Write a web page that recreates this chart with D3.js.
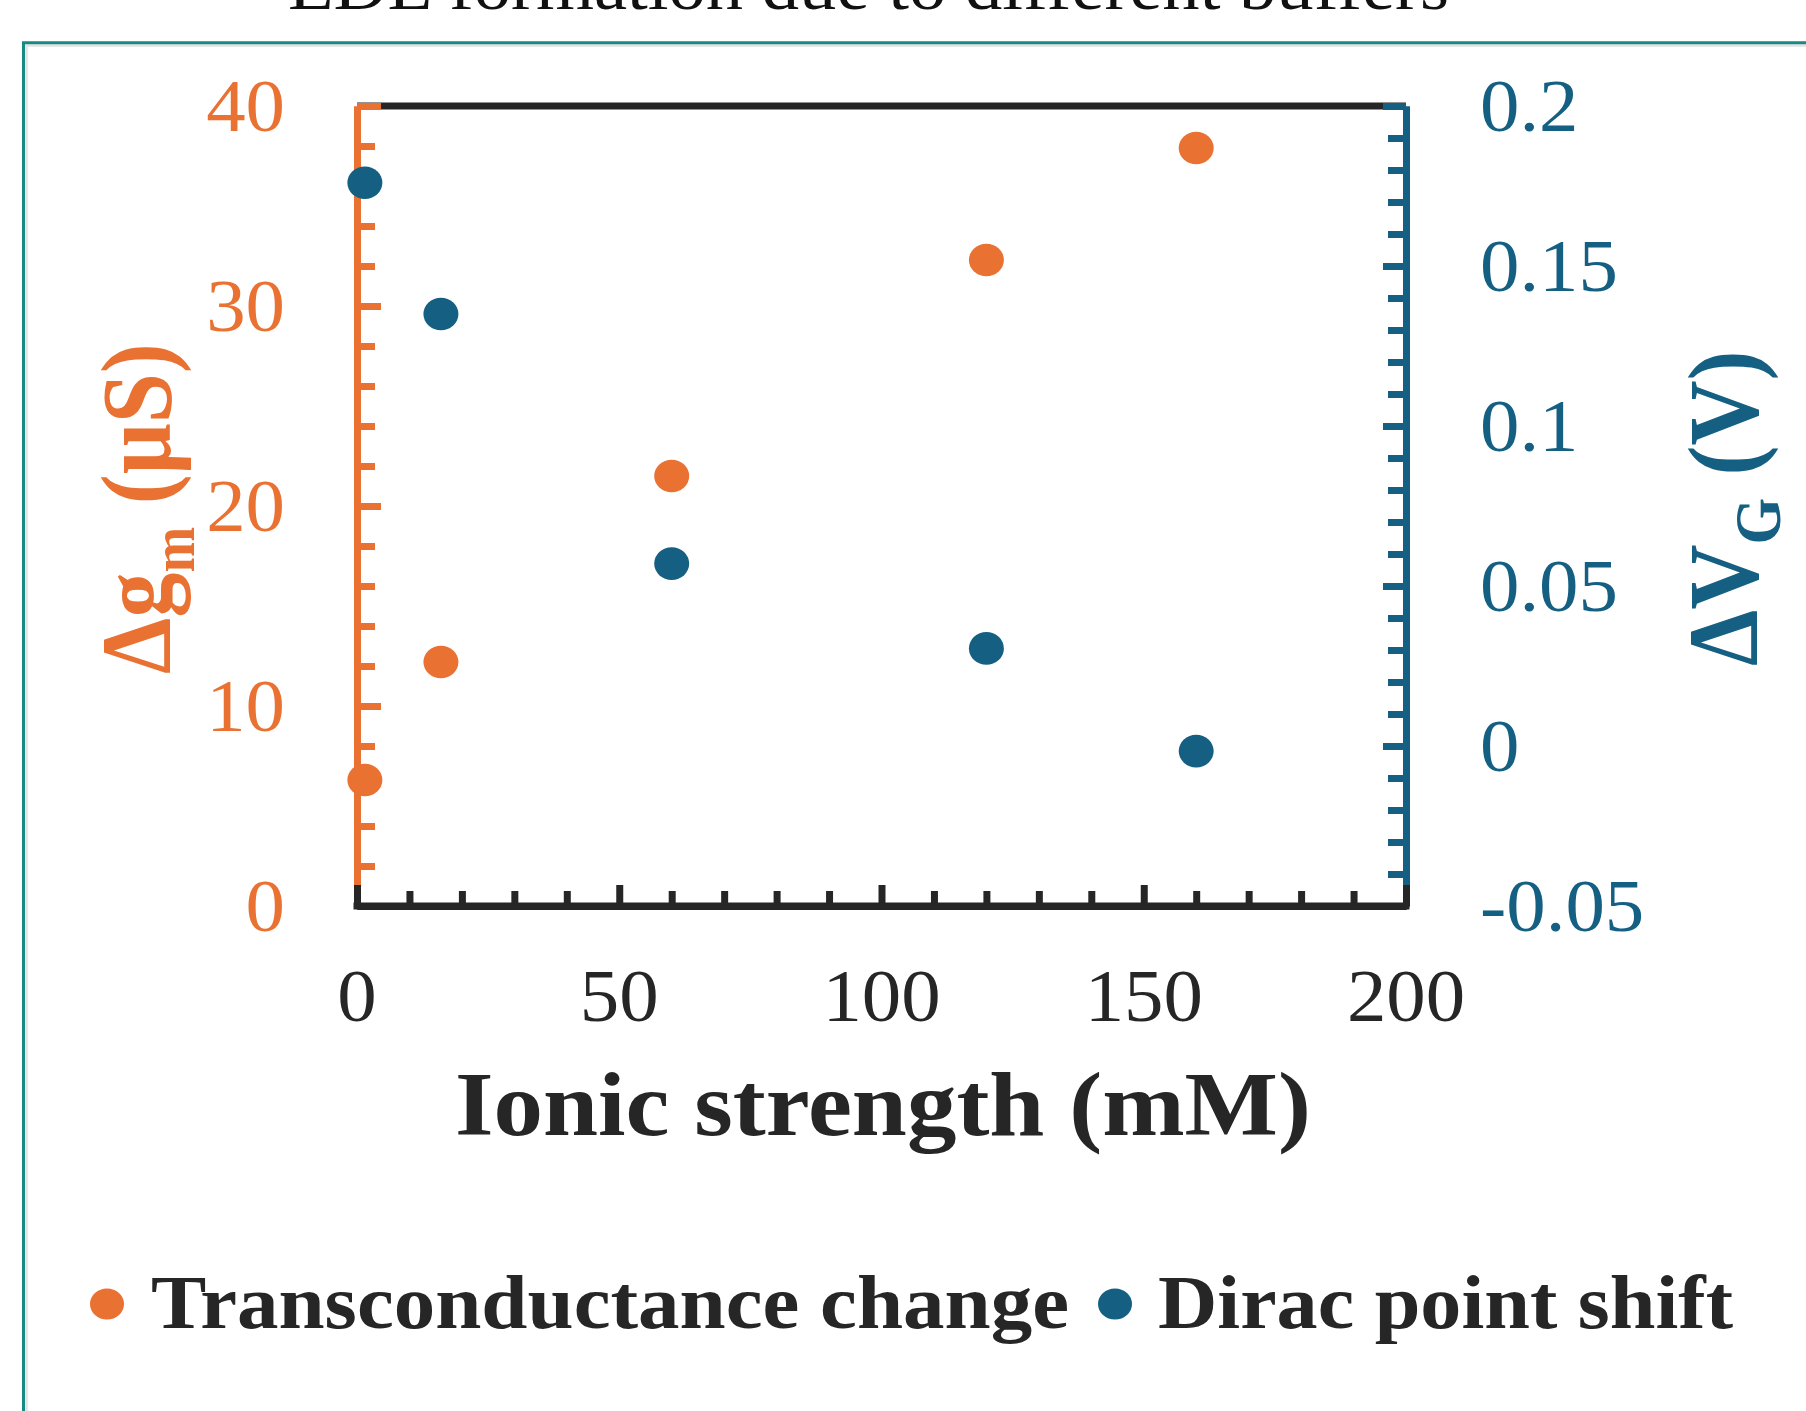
<!DOCTYPE html>
<html>
<head>
<meta charset="utf-8">
<script src="https://cdn.jsdelivr.net/npm/d3@7"></script>
<style>
  html, body { margin: 0; padding: 0; background: #fff; }
  svg { display: block; }
  text { font-family: "Liberation Serif", "Times New Roman", serif; }
</style>
</head>
<body>
<svg id="chart" width="1806" height="1411"></svg>
<script>
// ---------------- data ----------------
const ionicStrength = [1.5, 16, 60, 120, 160];            // mM
const transconductanceChange = [6.3, 12.2, 21.5, 32.3, 37.9]; // µS (left axis)
const diracPointShift = [0.176, 0.135, 0.057, 0.0305, -0.0016]; // V (right axis)

const xTickValues = [0, 50, 100, 150, 200];
const xTickLabels = ["0", "50", "100", "150", "200"];
const leftTickValues = [0, 10, 20, 30, 40];
const leftTickLabels = ["0", "10", "20", "30", "40"];
const rightTickValues = [-0.05, 0, 0.05, 0.1, 0.15, 0.2];
const rightTickLabels = ["-0.05", "0", "0.05", "0.1", "0.15", "0.2"];

const seriesNames = ["Transconductance change", "Dirac point shift"];
const titleText = "EDL formation due to different buffers";

// ---------------- style ----------------
const ORANGE = "#E97132", BLUE = "#156082", DARK = "#262626", TEAL = "#178A84";
const LW = 7;
const plot = { left: 357, right: 1406, top: 106, bottom: 906 };

const svg = d3.select("#chart");
svg.append("rect").attr("width", 1806).attr("height", 1411).attr("fill", "#fff");

// frame (teal border) with faint inner shadow
svg.append("path").attr("d", "M1806,45.5H26.5V1411").attr("fill", "none")
  .attr("stroke", "#e2e2e2").attr("stroke-width", 2.5);
svg.append("path").attr("d", "M1806,42.7H23.5V1411").attr("fill", "none")
  .attr("stroke", TEAL).attr("stroke-width", 3);

// title (partially cut at top)
svg.append("text").attr("x", 288).attr("y", 9)
  .attr("font-size", 68).attr("fill", "#111")
  .attr("textLength", 1161).attr("lengthAdjust", "spacingAndGlyphs")
  .text(titleText);

// ---------------- scales ----------------
const x = d3.scaleLinear().domain([0, 200]).range([plot.left, plot.right]);
const yL = d3.scaleLinear().domain([0, 40]).range([plot.bottom, plot.top]);
const yR = d3.scaleLinear().domain([-0.05, 0.2]).range([plot.bottom, plot.top]);

function styleAxis(g, color) {
  g.selectAll("path.domain").attr("stroke", color).attr("stroke-width", LW).attr("stroke-linecap", "butt");
  g.selectAll(".tick line").attr("stroke", color).attr("stroke-width", LW);
  g.selectAll(".tick text").remove();
}

// top border line
svg.append("line").attr("x1", plot.left).attr("x2", plot.right)
  .attr("y1", plot.top).attr("y2", plot.top)
  .attr("stroke", DARK).attr("stroke-width", LW);

// left axis (orange)
const leftMinor = d3.range(0, 41, 2).filter(v => v % 10 !== 0);
const gL = svg.append("g").attr("transform", `translate(${plot.left},0)`);
gL.append("g").call(d3.axisLeft(yL).tickValues(leftMinor).tickSizeInner(-18).tickSizeOuter(0).tickFormat(""))
  .call(g => styleAxis(g, ORANGE));
gL.append("g").call(d3.axisLeft(yL).tickValues(leftTickValues).tickSizeInner(-24).tickSizeOuter(0).tickFormat(""))
  .call(g => styleAxis(g, ORANGE));

// right axis (blue)
const rightMinor = d3.range(-5, 21, 1).filter(v => v % 5 !== 0).map(v => v / 100);
const gR = svg.append("g").attr("transform", `translate(${plot.right},0)`);
gR.append("g").call(d3.axisRight(yR).tickValues(rightMinor).tickSizeInner(-18).tickSizeOuter(0).tickFormat(""))
  .call(g => styleAxis(g, BLUE));
gR.append("g").call(d3.axisRight(yR).tickValues(rightTickValues).tickSizeInner(-23).tickSizeOuter(0).tickFormat(""))
  .call(g => styleAxis(g, BLUE));

// bottom axis (black)
const xMinor = d3.range(0, 201, 10).filter(v => v % 50 !== 0);
const gX = svg.append("g").attr("transform", `translate(0,${plot.bottom})`);
gX.append("g").call(d3.axisBottom(x).tickValues(xMinor).tickSizeInner(-15).tickSizeOuter(0).tickFormat(""))
  .call(g => styleAxis(g, DARK));
gX.append("g").call(d3.axisBottom(x).tickValues(xTickValues).tickSizeInner(-21).tickSizeOuter(0).tickFormat(""))
  .call(g => styleAxis(g, DARK));
// extend domain slightly to cover axis corners
gX.append("line").attr("x1", plot.left - LW / 2).attr("x2", plot.right + LW / 2)
  .attr("stroke", DARK).attr("stroke-width", LW);

// ---------------- tick labels ----------------
const SX = 1.08, TICK_FS = 73;
function sText(parent, tx, ty, anchor, txt, fill, size, sx) {
  return parent.append("text")
    .attr("transform", `translate(${tx},${ty}) scale(${sx},1)`)
    .attr("text-anchor", anchor).attr("font-size", size).attr("fill", fill).text(txt);
}
leftTickValues.forEach((v, i) => sText(svg, 285, yL(v) + 25, "end", leftTickLabels[i], ORANGE, TICK_FS, SX));
rightTickValues.forEach((v, i) => sText(svg, 1480, yR(v) + 25, "start", rightTickLabels[i], BLUE, TICK_FS, SX));
xTickValues.forEach((v, i) => sText(svg, x(v), 1021, "middle", xTickLabels[i], DARK, TICK_FS, SX));

// ---------------- axis titles ----------------
svg.append("text").attr("x", 455).attr("y", 1135)
  .attr("font-size", 90).attr("font-weight", "bold").attr("fill", DARK)
  .attr("textLength", 856).attr("lengthAdjust", "spacingAndGlyphs")
  .text("Ionic strength (mM)");

const lt = svg.append("text")
  .attr("transform", "translate(170,674) scale(1.1,1) rotate(-90)")
  .attr("font-size", 90).attr("font-weight", "bold").attr("fill", ORANGE);
lt.append("tspan").text("Δg");
lt.append("tspan").attr("font-size", 55).attr("dy", 22).text("m");
lt.append("tspan").attr("dy", -22).text(" (μS)");

const rt = svg.append("text")
  .attr("transform", "translate(1757,666) scale(1.1,1) rotate(-90)")
  .attr("font-size", 90).attr("font-weight", "bold").attr("fill", BLUE);
rt.append("tspan").text("ΔV");
rt.append("tspan").attr("font-size", 60).attr("dy", 21).text("G");
rt.append("tspan").attr("dy", -21).text(" (V)");

// ---------------- data points ----------------
const RX = 17.5, RY = 16.3;
svg.append("g").selectAll("ellipse").data(ionicStrength.map((d, i) => [d, transconductanceChange[i]]))
  .join("ellipse").attr("cx", d => x(d[0])).attr("cy", d => yL(d[1]))
  .attr("rx", RX).attr("ry", RY).attr("fill", ORANGE);
svg.append("g").selectAll("ellipse").data(ionicStrength.map((d, i) => [d, diracPointShift[i]]))
  .join("ellipse").attr("cx", d => x(d[0])).attr("cy", d => yR(d[1]))
  .attr("rx", RX).attr("ry", RY).attr("fill", BLUE);

// ---------------- legend ----------------
const legendItems = [
  { name: seriesNames[0], color: ORANGE, dotX: 107, textX: 151, len: 918 },
  { name: seriesNames[1], color: BLUE, dotX: 1115, textX: 1158, len: 575 }
];
const lg = svg.append("g");
legendItems.forEach(it => {
  lg.append("ellipse").attr("cx", it.dotX).attr("cy", 1304).attr("rx", 17).attr("ry", 15.5).attr("fill", it.color);
  lg.append("text").attr("x", it.textX).attr("y", 1328)
    .attr("font-size", 77).attr("font-weight", "bold").attr("fill", DARK)
    .attr("textLength", it.len).attr("lengthAdjust", "spacingAndGlyphs")
    .text(it.name);
});
</script>
</body>
</html>
